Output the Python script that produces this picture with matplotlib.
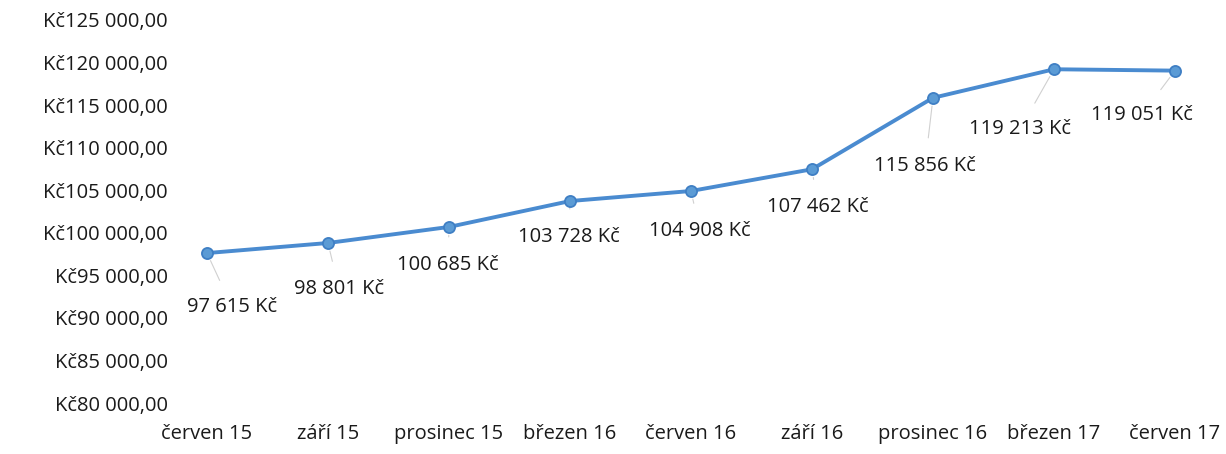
import matplotlib
matplotlib.use('Agg')
import matplotlib.pyplot as plt
from matplotlib.ticker import FuncFormatter

# ---- data ----
months = ['červen 15', 'září 15', 'prosinec 15', 'březen 16', 'červen 16',
          'září 16', 'prosinec 16', 'březen 17', 'červen 17']
values = [97615, 98801, 100685, 103728, 104908, 107462, 115856, 119213, 119051]
y_ticks = list(range(80000, 125001, 5000))

# label offsets (pixels, from point to label centre)
label_dx = [25, 11, -1, -1, 9, 6, -8, -34, -33]
label_dy = [-54, -46, -38, -36, -40, -38, -68, -60, -44]

LINE = '#4a8bd0'

plt.rcParams['font.family'] = ['Open Sans', 'DejaVu Sans']


def kc_fmt(v, pos=None):
    s = f'{int(v):,}'.replace(',', ' ')
    return f'Kč{s},00'


def main():
    fig = plt.figure(figsize=(12.26, 4.54), dpi=100)
    ax = fig.add_axes([207 / 1226, 1 - 403 / 454, (1175 - 207) / 1226, (403 - 20) / 454])

    x = list(range(len(months)))
    ax.plot(x, values, color=LINE, lw=2.8, marker='o', ms=8,
            mfc='#5b9bd5', mec='#3f7fc4', mew=1.3, zorder=3, clip_on=False)

    for xi, v, dx, dy in zip(x, values, label_dx, label_dy):
        s = f'{v:,}'.replace(',', ' ') + ' Kč'
        ax.annotate(s, (xi, v), xytext=(dx, dy), textcoords='offset pixels',
                    ha='center', va='center', fontsize=14.5, color='#1a1a1a',
                    arrowprops=dict(arrowstyle='-', color='#d0d0d0', lw=0.8,
                                    shrinkA=11, shrinkB=6),
                    zorder=2, annotation_clip=False)

    ax.set_xlim(0, len(months) - 1)
    ax.set_ylim(80000, 125000)
    ax.set_yticks(y_ticks)
    ax.yaxis.set_major_formatter(FuncFormatter(kc_fmt))
    ax.set_xticks(x)
    ax.set_xticklabels(months)
    ax.tick_params(axis='both', length=0, labelsize=14.5, colors='#1a1a1a')
    ax.tick_params(axis='y', pad=28)
    ax.tick_params(axis='x', pad=15)
    for sp in ax.spines.values():
        sp.set_visible(False)
    ax.patch.set_alpha(0)

    fig.savefig('out.png', dpi=100)
    plt.close(fig)


if __name__ == '__main__':
    main()
